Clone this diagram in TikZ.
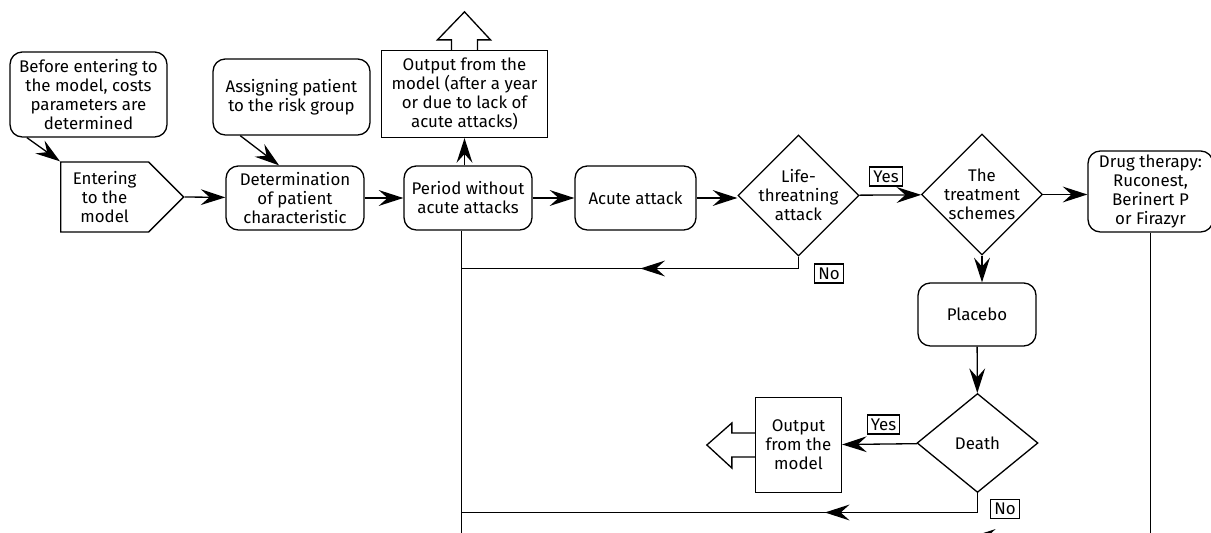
\documentclass[tikz,border=0pt]{standalone}
\usepackage{fontspec}
\setmainfont{Fira Sans}
\usepackage{tikz}
\usetikzlibrary{arrows.meta}
\usetikzlibrary{decorations.markings}
\usetikzlibrary{shapes.geometric,shapes.symbols}

\newcommand{\chartfont}{\fontsize{9.6}{10.8}\selectfont}

\tikzset{
  >={Stealth[length=14pt,width=9pt,inset=5pt]},
  stepbox/.style={draw, rounded corners=7pt, align=center, inner sep=1pt, font=\chartfont},
  outbox/.style={draw, align=center, inner sep=1pt, font=\chartfont},
  decision/.style={draw, diamond, align=center, inner sep=-6pt, font=\chartfont},
  answer/.style={draw, inner sep=2pt, font=\chartfont},
  midarrow/.style={postaction={decorate}, decoration={markings,
    mark=at position #1 with {\arrow{Stealth[length=14pt,width=9pt,inset=5pt]}}}}
}

\begin{document}
\begin{tikzpicture}[x=0.02cm,y=-0.02cm,line width=0.75pt]
\path[use as bounding box, clip] (0,0) rectangle (1211,533);
\coordinate (a) at (88.5,94.5);
\coordinate (b) at (291.5,97);
\coordinate (c) at (464.5,94);
\coordinate (d) at (60,197);
\coordinate (e) at (295,198);
\coordinate (f) at (468,198);
\coordinate (g) at (635.5,198);
\coordinate (h) at (798.5,195.5);
\coordinate (i) at (982,194.5);
\coordinate (j) at (1150.5,191.5);
\coordinate (k) at (977,314.5);
\coordinate (l) at (977.5,443);
\coordinate (m) at (798.5,445);
% draws steps
\node[stepbox, minimum width=3.14cm, minimum height=1.7cm] (before) at (a)
  {Before entering to\\the model, costs\\parameters are\\determined};
\node[stepbox, minimum width=3.14cm, minimum height=1.52cm] (assign) at (b)
  {Assigning patient\\to the risk group};
\node[outbox, minimum width=3.32cm, minimum height=1.74cm] (out1) at (c)
  {Output from the\\model (after a year\\or due to lack of\\acute attacks)};
\node[draw, signal, signal to=east, signal pointer angle=90, align=center,
  inner sep=1pt, font=\chartfont, minimum width=2.46cm, minimum height=1.4cm,
  anchor=west] (enter) at (d)
  {Entering\\to the\\model};
\node[stepbox, minimum width=2.76cm, minimum height=1.28cm] (det) at (e)
  {Determination\\of patient\\characteristic};
\node[stepbox, minimum width=2.56cm, minimum height=1.28cm] (period) at (f)
  {Period without\\acute attacks};
\node[stepbox, minimum width=2.42cm, minimum height=1.28cm] (acute) at (g)
  {Acute attack};
\node[decision, minimum width=2.42cm, minimum height=2.42cm] (life) at (h)
  {Life-\\threatning\\attack};
\node[decision, minimum width=2.42cm, minimum height=2.42cm] (treat) at (i)
  {The\\treatment\\schemes};
\node[stepbox, minimum width=2.5cm, minimum height=1.62cm] (drug) at (j)
  {Drug therapy:\\Ruconest,\\Berinert P\\or Firazyr};
\node[stepbox, minimum width=2.36cm, minimum height=1.26cm] (placebo) at (k)
  {Placebo};
\node[decision, minimum width=2.42cm, minimum height=1.98cm] (death) at (l)
  {Death};
\node[outbox, minimum width=1.72cm, minimum height=1.9cm] (out2) at (m)
  {Output\\from the\\model};
% labels answers
\node[answer] (yes1) at (886,176.5) {Yes};
\node[answer] (no1) at (829,273.5) {No};
\node[answer] (yes2) at (883.5,424.5) {Yes};
\node[answer] (no2) at (1005,509) {No};
% draws exit arrows
\draw (out1.north) ++(-13,0) -- ++(0,-10) -- ++(-14,0) -- ++(27,-28)
  -- ++(26,28) -- ++(-13,0) -- ++(0,10);
\draw (out2.west) ++(0,-12) -- ++(-23,0) -- ++(0,-10) -- ++(-25,22)
  -- ++(25,23) -- ++(0,-11) -- ++(23,0);
% draws edges
\coordinate (p) at (461.5,545);
\coordinate (q) at (461.5,268.5);
\coordinate (r) at (461.5,512.5);
\coordinate (s) at (461.5,537);
\draw[->] (before.215) to (enter.north west);
\draw[->] (assign.217.5) to (det.116.6);
\draw[->] (enter.east) to (det);
\draw[->] (det) to (period);
\draw[->] (period.north -| out1.south) to (out1.south);
\draw[->] (period) to (acute);
\draw[->] (acute.east) to (acute.east -| life.west);
\draw[->] (life) to (treat);
\draw[->] (treat) to (drug.west |- treat);
\draw[->] (treat.south) to (treat.south |- placebo.north);
\draw[->] (placebo) to (death);
\draw[->] (death) to (out2);
\draw (period.south -| p) to (p);
\draw[midarrow=3.4cm] (life.south) |- (q);
\draw[midarrow=3.44cm] (death.south) |- (r);
\draw[midarrow=9.68cm] (drug.south) |- (s);
\end{tikzpicture}
\end{document}
